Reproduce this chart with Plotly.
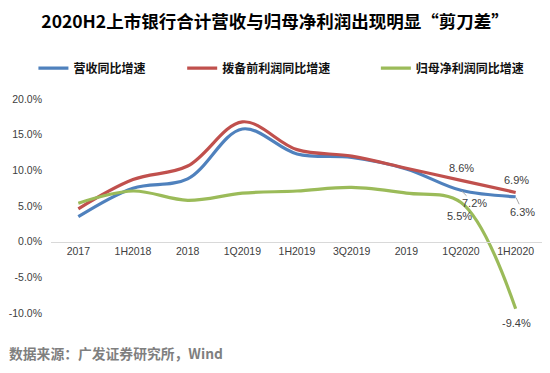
import plotly.graph_objects as go

categories = ["2017", "1H2018", "2018", "1Q2019", "1H2019", "3Q2019", "2019", "1Q2020", "1H2020"]
revenue = [3.5, 7.5, 8.8, 15.8, 12.3, 11.8, 10.2, 7.2, 6.3]
ppop = [4.6, 8.7, 10.6, 16.8, 12.9, 12.0, 10.3, 8.6, 6.9]
net_profit = [5.4, 7.1, 5.8, 6.8, 7.1, 7.6, 6.8, 5.5, -9.4]
names = ["营收同比增速", "拨备前利润同比增速", "归母净利润同比增速"]
colors = ["#4F81BD", "#C0504D", "#9BBB59"]
y_ticks = [-10, -5, 0, 5, 10, 15, 20]

# The page body has an 8px margin; the figure is sized/positioned to compensate.
OFF = 8
W, H = 550 - OFF, 373 - OFF
ml = 50.6 - OFF
mr = W - (543.4 - OFF)
mt = 99 - OFF
mb = H - (313.5 - OFF)
pw = W - ml - mr
ph = H - mt - mb

CJK = "Noto Sans CJK SC"
NUM = "Liberation Sans, Arial"

fig = go.Figure()
series = [revenue, ppop, net_profit]
legend_px = [39, 188, 382]
for i, (vals, nm, c) in enumerate(zip(series, names, colors)):
    lg = "legend" if i == 0 else f"legend{i+1}"
    fig.add_trace(go.Scatter(
        x=categories, y=vals, name=nm, mode="lines",
        line=dict(color=c, width=3.2, shape="spline", smoothing=1.0),
        legend=lg, hoverinfo="skip", showlegend=True,
    ))

legend_common = dict(
    orientation="h", xanchor="left", yanchor="middle",
    font=dict(family=CJK, size=12, color="#111111", weight="bold"),
    bgcolor="rgba(0,0,0,0)", borderwidth=0, itemwidth=30,
)
layout_legends = {}
for i, px in enumerate(legend_px):
    key = "legend" if i == 0 else f"legend{i+1}"
    layout_legends[key] = dict(
        legend_common,
        x=((px - OFF) - ml - 6) / pw,
        y=1 + (mt - (68 - OFF)) / ph,
    )

# data labels
last = len(categories) - 1
q = last - 1
label_specs = [
    # (series, index, text, xshift, yshift, arrow)
    (ppop, q, "8.6%", 0, 12, False),
    (revenue, q, "7.2%", 13, -13, True),
    (net_profit, q, "5.5%", -2, -14, False),
    (ppop, last, "6.9%", 1, 12, False),
    (revenue, last, "6.3%", 7, -15, True),
    (net_profit, last, "-9.4%", 1, -14, False),
]
annotations = []
for vals, idx, txt, xs, ys, arrow in label_specs:
    if arrow:
        annotations.append(dict(
            x=categories[idx], y=vals[idx], xref="x", yref="y", text=txt,
            showarrow=True, arrowhead=0, arrowwidth=1, arrowcolor="#A6A6A6",
            ax=xs, ay=-ys, standoff=1,
            font=dict(family=NUM, size=11, color="#404040"),
        ))
    else:
        annotations.append(dict(
            x=categories[idx], y=vals[idx], xref="x", yref="y", text=txt,
            showarrow=False, xshift=xs, yshift=ys,
            font=dict(family=NUM, size=11, color="#404040"),
        ))

annotations.append(dict(
    x=((7 - OFF) - ml) / pw, y=(H - mb - (354 - OFF)) / ph, xref="paper", yref="paper",
    text="数据来源：广发证券研究所，Wind",
    showarrow=False, xanchor="left", yanchor="middle",
    font=dict(family=CJK, size=13.8, color="#7F7F7F", weight="bold"),
))

fig.update_layout(
    width=W, height=H,
    margin=dict(l=ml, r=mr, t=mt, b=mb, pad=0, autoexpand=False),
    paper_bgcolor="white", plot_bgcolor="white",
    showlegend=True,
    title=dict(
        text="2020H2上市银行合计营收与归母净利润出现明显“剪刀差”",
        x=(275 - OFF) / W, xanchor="center", xref="container",
        y=1 - (22 - OFF) / H, yanchor="middle", yref="container",
        font=dict(family=CJK, size=17.5, color="#000000", weight="bold"),
    ),
    xaxis=dict(
        type="category", range=[-0.5, 8.5],
        anchor="free", position=1 / 3,
        showline=True, linecolor="#D9D9D9", linewidth=1,
        showgrid=False, zeroline=False, ticks="",
        tickfont=dict(family=NUM, size=10.5, color="#404040"),
        fixedrange=True, automargin=False,
    ),
    yaxis=dict(
        range=[-10, 20], tickvals=y_ticks,
        ticktext=[f"{v:.1f}%" for v in y_ticks],
        showgrid=False, zeroline=False, showline=False, ticks="",
        tickfont=dict(family=NUM, size=10.5, color="#404040"),
        ticklabelstandoff=8,
        fixedrange=True, automargin=False,
    ),
    annotations=annotations,
    **layout_legends,
)

fig.write_html("out.html")
